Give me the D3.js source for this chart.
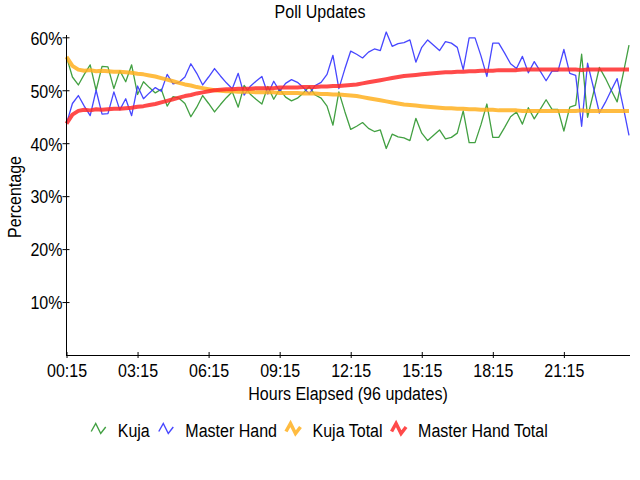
<!DOCTYPE html>
<html lang="en">
    <head>
        <meta charset="utf-8">
        <title>Poll Updates</title>
        <script type="text/javascript" src="https://d3js.org/d3.v7.min.js"></script>
        <style type="text/css">
            body { margin: 0; background: #fff; }
            text {
                font-family: "Liberation Sans", Arial, sans-serif;
                font-size: 18px;
                fill: #000;
            }
        </style>
    </head>
    <body>
        <script type="text/javascript">

        // Tick labels (one every 12 updates)
        var tickUpdates = [0, 12, 24, 36, 48, 60, 72, 84];
        var tickLabels = ["00:15", "03:15", "06:15", "09:15", "12:15", "15:15", "18:15", "21:15"];
        var percentTicks = [10, 20, 30, 40, 50, 60];

        // Series values (percent), 96 updates
        var kuja = [56.3, 52.5, 51.0, 53.0, 54.8, 50.0, 54.5, 54.4, 50.3, 53.7,
                    51.6, 54.8, 49.2, 51.6, 50.5, 49.5, 50.2, 47.0, 48.8, 48.5,
                    47.5, 45.0, 46.8, 49.0, 47.5, 45.9, 47.3, 48.6, 49.7, 46.8,
                    50.9, 49.3, 48.3, 47.4, 50.7, 48.3, 50.2, 48.7, 48.0, 48.5,
                    49.5, 50.7, 49.1, 48.5, 47.0, 43.4, 49.7, 46.0, 42.6, 43.2,
                    43.9, 42.8, 42.2, 42.5, 39.0, 41.7, 41.2, 41.0, 40.5, 44.7,
                    41.9, 40.5, 41.5, 42.5, 40.8, 41.1, 41.9, 46.1, 40.1, 40.1,
                    43.5, 47.4, 41.1, 41.1, 43.0, 45.0, 45.9, 43.6, 46.7, 44.6,
                    46.4, 48.2, 46.4, 46.4, 42.3, 46.8, 47.2, 56.8, 44.9, 49.5,
                    54.3, 52.3, 50.0, 47.8, 53.0, 58.5];

        var masterHand = [43.7, 47.5, 49.0, 47.0, 45.2, 50.0, 45.5, 45.6, 49.7, 46.3,
                    48.4, 45.2, 50.8, 48.4, 49.5, 50.5, 49.8, 53.0, 51.2, 51.5,
                    52.5, 55.0, 53.2, 51.0, 52.5, 54.1, 52.7, 51.4, 50.3, 53.2,
                    49.1, 50.7, 51.7, 52.6, 49.3, 51.7, 49.8, 51.3, 52.0, 51.5,
                    50.5, 49.3, 50.9, 51.5, 53.0, 56.6, 50.3, 54.0, 57.4, 56.8,
                    56.1, 57.2, 57.8, 57.5, 61.0, 58.3, 58.8, 59.0, 59.5, 55.3,
                    58.1, 59.5, 58.5, 57.5, 59.2, 58.9, 58.1, 53.9, 59.9, 59.9,
                    56.5, 52.6, 58.9, 58.9, 57.0, 55.0, 54.1, 56.4, 53.3, 55.4,
                    53.6, 51.8, 53.6, 53.6, 57.7, 53.2, 52.8, 43.2, 55.1, 50.5,
                    45.7, 47.7, 50.0, 52.2, 47.0, 41.5];

        var kujaTotal = [56.3, 54.6, 53.9, 53.7, 53.8, 53.6, 53.7, 53.6, 53.5, 53.5,
                    53.4, 53.3, 53.1, 53.0, 52.8, 52.6, 52.3, 52.0, 51.7, 51.4,
                    51.1, 50.9, 50.6, 50.4, 50.2, 50.0, 49.9, 49.8, 49.8, 49.7,
                    49.7, 49.7, 49.6, 49.6, 49.6, 49.6, 49.5, 49.5, 49.5, 49.5,
                    49.4, 49.4, 49.4, 49.3, 49.3, 49.2, 49.2, 49.1, 49.0, 48.9,
                    48.7, 48.5, 48.3, 48.1, 47.9, 47.7, 47.5, 47.3, 47.2, 47.1,
                    47.0, 46.9, 46.8, 46.7, 46.6, 46.6, 46.5, 46.5, 46.4, 46.4,
                    46.3, 46.3, 46.3, 46.2, 46.2, 46.2, 46.2, 46.1, 46.1, 46.1,
                    46.1, 46.1, 46.1, 46.1, 46.1, 46.1, 46.1, 46.2, 46.1, 46.1,
                    46.1, 46.1, 46.1, 46.1, 46.1, 46.1];

        var masterHandTotal = [43.7, 45.4, 46.1, 46.3, 46.2, 46.4, 46.3, 46.4, 46.5, 46.5,
                    46.6, 46.7, 46.9, 47.0, 47.2, 47.4, 47.7, 48.0, 48.3, 48.6,
                    48.9, 49.1, 49.4, 49.6, 49.8, 50.0, 50.1, 50.2, 50.2, 50.3,
                    50.3, 50.3, 50.4, 50.4, 50.4, 50.4, 50.5, 50.5, 50.5, 50.5,
                    50.6, 50.6, 50.6, 50.7, 50.7, 50.8, 50.8, 50.9, 51.0, 51.1,
                    51.3, 51.5, 51.7, 51.9, 52.1, 52.3, 52.5, 52.7, 52.8, 52.9,
                    53.0, 53.1, 53.2, 53.3, 53.4, 53.4, 53.5, 53.5, 53.6, 53.6,
                    53.7, 53.7, 53.7, 53.8, 53.8, 53.8, 53.8, 53.9, 53.9, 53.9,
                    53.9, 53.9, 53.9, 53.9, 53.9, 53.9, 53.9, 53.8, 53.9, 53.9,
                    53.9, 53.9, 53.9, 53.9, 53.9, 53.9];

        var seriesNames = ["Kuja", "Master Hand", "Kuja Total", "Master Hand Total"];

        // Styles per series
        var styles = [
            {color: "#2e962e", width: 1.3, opacity: 0.9},
            {color: "#3333ff", width: 1.3, opacity: 0.9},
            {color: "#ffb020", width: 4, opacity: 0.85},
            {color: "#ff2a2a", width: 4, opacity: 0.85}
        ];
        var allSeries = [kuja, masterHand, kujaTotal, masterHandTotal];

        var w = 640;
        var h = 480;
        var squeeze = 0.89;

        // Squeeze the text a bit so it looks like the narrow face of the original
        function narrow(sel) {
            sel.each(function(){
                var l = this.getComputedTextLength();
                d3.select(this)
                    .attr("textLength", l * squeeze)
                    .attr("lengthAdjust", "spacingAndGlyphs");
            });
        }

        var svg = d3.select("body")
                    .append("svg")
                    .attr("width", w)
                    .attr("height", h);

        // Scales
        var x = d3.scaleLinear().domain([0, kuja.length - 1]).range([66.5, 629]);
        var y = d3.scaleLinear().domain([0, 60]).range([355, 37.3]);

        // Title
        svg.append("text")
            .attr("x", 320)
            .attr("y", 18)
            .attr("text-anchor", "middle")
            .text("Poll Updates")
            .call(narrow);

        // Lines
        var line = d3.line()
            .x(function(d, i){ return x(i); })
            .y(function(d){ return y(d); });

        allSeries.forEach(function(s, k){
            svg.append("path")
                .datum(s)
                .attr("fill", "none")
                .attr("stroke", styles[k].color)
                .attr("stroke-width", styles[k].width)
                .attr("stroke-opacity", styles[k].opacity)
                .attr("stroke-linejoin", "round")
                .attr("d", line);
        });

        // X axis
        var xAxis = svg.append("g")
            .attr("transform", "translate(0,355)")
            .call(d3.axisBottom(x)
                .tickValues(tickUpdates)
                .tickFormat(function(d, i){ return tickLabels[i]; })
                .tickSizeInner(3)
                .tickSizeOuter(0));
        xAxis.attr("font-family", null).attr("font-size", null);
        xAxis.select(".domain").remove();
        xAxis.selectAll(".tick line").attr("y1", -3).attr("stroke", "#000");
        xAxis.selectAll(".tick text")
            .attr("y", 22).attr("dy", 0)
            .call(narrow);
        svg.append("line")
            .attr("x1", 66).attr("x2", 630)
            .attr("y1", 355.5).attr("y2", 355.5)
            .attr("stroke", "#000");

        // Y axis
        var yAxis = svg.append("g")
            .attr("transform", "translate(66.5,0)")
            .call(d3.axisLeft(y)
                .tickValues(percentTicks)
                .tickFormat(function(d){ return d + "%"; })
                .tickSizeInner(4)
                .tickSizeOuter(0));
        yAxis.attr("font-family", null).attr("font-size", null);
        yAxis.select(".domain").remove();
        yAxis.selectAll(".tick line").attr("x1", 3).attr("stroke", "#000");
        yAxis.selectAll(".tick text")
            .attr("x", -4).attr("dy", "0.38em")
            .call(narrow);
        svg.append("line")
            .attr("x1", 66.5).attr("x2", 66.5)
            .attr("y1", 35).attr("y2", 355.5)
            .attr("stroke", "#000");

        // Axis titles
        svg.append("text")
            .attr("x", 348)
            .attr("y", 400)
            .attr("text-anchor", "middle")
            .text("Hours Elapsed (96 updates)")
            .call(narrow);

        svg.append("text")
            .attr("transform", "translate(20.5,197) rotate(-90)")
            .attr("text-anchor", "middle")
            .text("Percentage")
            .call(narrow);

        // Legend
        var legend = svg.append("g");
        var cx = 0;
        var icon = [[0, 3.5], [4.5, -4.5], [9.5, 5.5], [14.5, -1]];
        seriesNames.forEach(function(name, k){
            var g = legend.append("g").attr("transform", "translate(" + cx + ",0)");
            g.append("path")
                .attr("d", d3.line()(icon))
                .attr("fill", "none")
                .attr("stroke", styles[k].color)
                .attr("stroke-opacity", styles[k].opacity)
                .attr("stroke-width", styles[k].width == 4 ? 3.5 : 1.4);
            var t = g.append("text")
                .attr("x", 26.5)
                .attr("y", 8.5)
                .text(name);
            var tw = t.node().getComputedTextLength() * squeeze;
            t.attr("textLength", tw).attr("lengthAdjust", "spacingAndGlyphs");
            cx += 26.5 + tw + 9;
        });
        var legendWidth = cx - 9;
        legend.attr("transform", "translate(" + (319.5 - legendWidth / 2) + ",428)");

        </script>
    </body>
</html>
